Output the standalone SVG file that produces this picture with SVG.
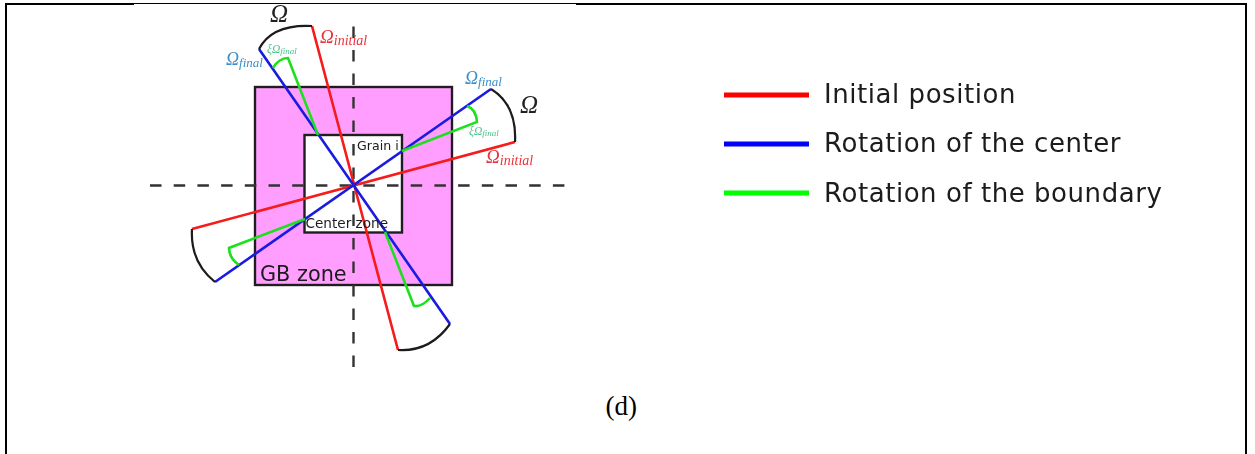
<svg xmlns="http://www.w3.org/2000/svg" width="1255" height="454" viewBox="0 0 1255 454">
<defs><filter id="soft" x="-5%" y="-5%" width="110%" height="110%"><feGaussianBlur stdDeviation="0.35"/></filter></defs>
<style>
.sq{stroke:#231f20;stroke-width:2.4}
.dash{fill:none;stroke:#333;stroke-width:2.4}
.r{fill:none;stroke:#f51a1a;stroke-width:2.6}
.b{fill:none;stroke:#1a1ae0;stroke-width:2.6}
.g{fill:none;stroke:#1ee01e;stroke-width:2.6}
.a{fill:none;stroke:#1a1a1a;stroke-width:2.2}
.s{font-family:"DejaVu Sans",Verdana,sans-serif;fill:#1a1a1a}
.leg{font-size:26px;letter-spacing:0.55px}
.m{font-family:"Liberation Serif","DejaVu Serif",serif;font-style:italic}
.mr{fill:#e8333a;font-size:19px}
.mb{fill:#3a8fc8;font-size:18px}
.mg{fill:#4cc08a;font-size:11.5px}
.mk{fill:#222;font-size:25px}
</style>
<rect width="1255" height="454" fill="#fff"/>
<g id="frame">
<path d="M6 454V4H134" fill="none" stroke="#000" stroke-width="2"/>
<path d="M134 3.500H576" fill="none" stroke="#000" stroke-width="1"/>
<path d="M576 4H1246V454" fill="none" stroke="#000" stroke-width="2"/>
</g>
<g filter="url(#soft)">
<g id="gb-zone"><rect class="sq" x="255" y="87" width="197" height="198" fill="#ff9eff"/></g>
<g id="grain"><rect class="sq" x="304.500" y="135" width="97.500" height="97.500" fill="#fff"/></g>
<g id="connectors">
<path class="dash" stroke-dasharray="11.500 12.200" d="M150 185.500H566"/>
<path class="dash" stroke-dasharray="11.500 12" d="M353.500 26.500V368"/>
<path class="r" d="M312 26L398 350M515 142L192 229"/>
<path class="b" d="M259 49L450 324M491 89L215 282"/>
<path class="a" d="M259 49Q272 24 312 26M491 89Q517 105 515 142M192 229Q190 262 215 282M450 324Q430 352 398 350"/>
<path class="g" d="M318 135L288 58Q279 58 273 68M402 151L477 122Q476 109 467 106M305 219L229 248Q229 258 239 265M385 232L414 306Q422 307 430 298"/>
</g>
<g id="labels">
<text class="s" x="357" y="149.500" font-size="12.600">Grain i</text>
<text class="s" x="305.500" y="228" font-size="13.600">Center zone</text>
<text class="s" x="260" y="281" font-size="20.800">GB zone</text>
<text class="m mk" x="270" y="22">Ω</text>
<text class="m mr" x="320" y="43">Ω<tspan font-size="14" dy="2">initial</tspan></text>
<text class="m mb" x="226" y="65">Ω<tspan font-size="13" dy="2">final</tspan></text>
<text class="m mg" x="267" y="53">ξΩ<tspan font-size="9" dy="1">final</tspan></text>
<text class="m mb" x="465" y="84">Ω<tspan font-size="13" dy="2">final</tspan></text>
<text class="m mk" x="520" y="113">Ω</text>
<text class="m mg" x="469" y="135">ξΩ<tspan font-size="9" dy="1">final</tspan></text>
<text class="m mr" x="486" y="163">Ω<tspan font-size="14" dy="2">initial</tspan></text>
</g>
<g id="legend">
<path d="M724 95H809" stroke="#f00" stroke-width="5" fill="none"/>
<path d="M724 144H809" stroke="#00f" stroke-width="5" fill="none"/>
<path d="M724 193H809" stroke="#0f0" stroke-width="5" fill="none"/>
<text class="s leg" x="824" y="102.500">Initial position</text>
<text class="s leg" x="824" y="151.500">Rotation of the center</text>
<text class="s leg" x="824" y="201.500">Rotation of the boundary</text>
</g>
</g>
<text id="caption" x="605.500" y="415" font-family="Liberation Serif,serif" font-size="27" fill="#000">(d)</text>
</svg>
